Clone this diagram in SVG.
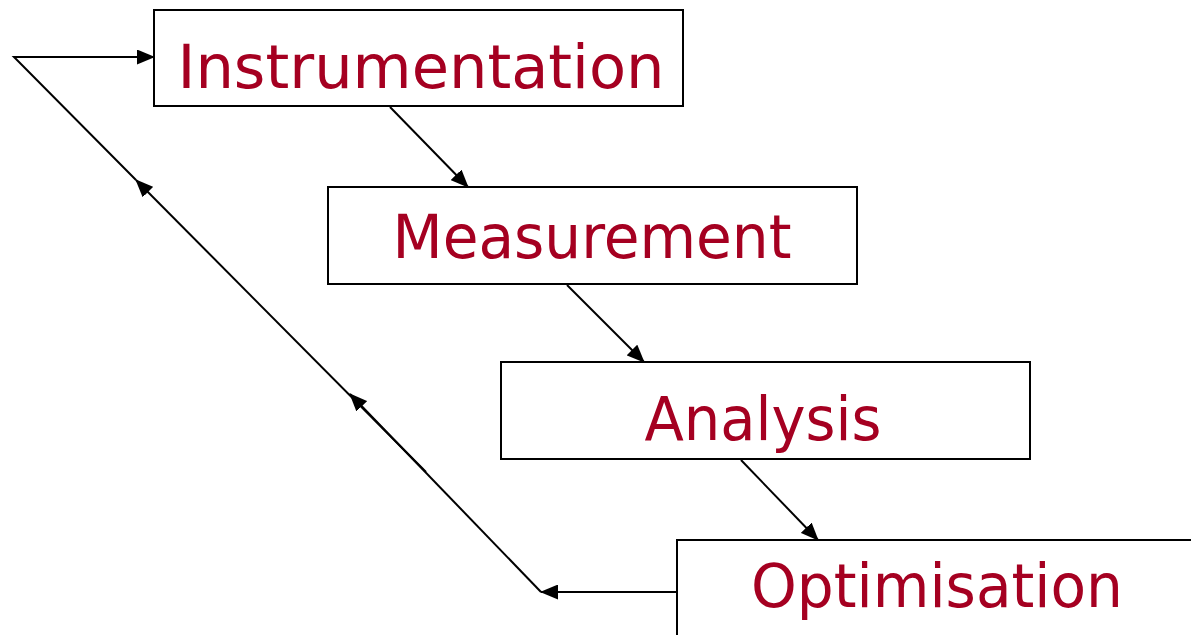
<svg xmlns="http://www.w3.org/2000/svg" width="1191" height="635" viewBox="0 0 1191 635">
<style>
.box{fill:#fff;stroke:#000;stroke-width:2}
.lbl{font-family:"DejaVu Sans","Liberation Sans",sans-serif;font-size:60px;fill:#A50021;text-anchor:middle}
.ln{stroke:#000;stroke-width:2;fill:none}
</style>
<defs>
<marker id="ahb" viewBox="0 0 18 15" refX="17" refY="7.5" markerWidth="18" markerHeight="15" markerUnits="userSpaceOnUse" orient="auto">
<path d="M0,0 L18,7.5 L0,15 Z" fill="#000"/>
</marker>
</defs>
<g id="connectors">
<line class="ln" x1="390" y1="107" x2="468" y2="187" marker-end="url(#ahb)"/>
<line class="ln" x1="567" y1="285" x2="644" y2="362" marker-end="url(#ahb)"/>
<line class="ln" x1="741" y1="460" x2="818" y2="540" marker-end="url(#ahb)"/>
<line class="ln" x1="677" y1="592" x2="541" y2="592" marker-end="url(#ahb)"/>
<line class="ln" x1="541" y1="592" x2="350" y2="394" marker-end="url(#ahb)"/>
<line class="ln" x1="426" y1="472" x2="136" y2="180" marker-end="url(#ahb)"/>
<polyline class="ln" points="136,180 14,57 154,57" marker-end="url(#ahb)"/>
</g>
<g id="instrumentation">
<rect class="box" x="154" y="10" width="529" height="96"/>
<text class="lbl" x="421" y="88" textLength="487" lengthAdjust="spacingAndGlyphs">Instrumentation</text>
</g>
<g id="measurement">
<rect class="box" x="328" y="187" width="529" height="97"/>
<text class="lbl" x="592" y="258" textLength="399" lengthAdjust="spacingAndGlyphs">Measurement</text>
</g>
<g id="analysis">
<rect class="box" x="501" y="362" width="529" height="97"/>
<text class="lbl" x="763" y="440" textLength="237" lengthAdjust="spacingAndGlyphs">Analysis</text>
</g>
<g id="optimisation">
<rect class="box" x="677" y="540" width="540" height="110"/>
<text class="lbl" x="937" y="607" textLength="372" lengthAdjust="spacingAndGlyphs">Optimisation</text>
</g>
</svg>
